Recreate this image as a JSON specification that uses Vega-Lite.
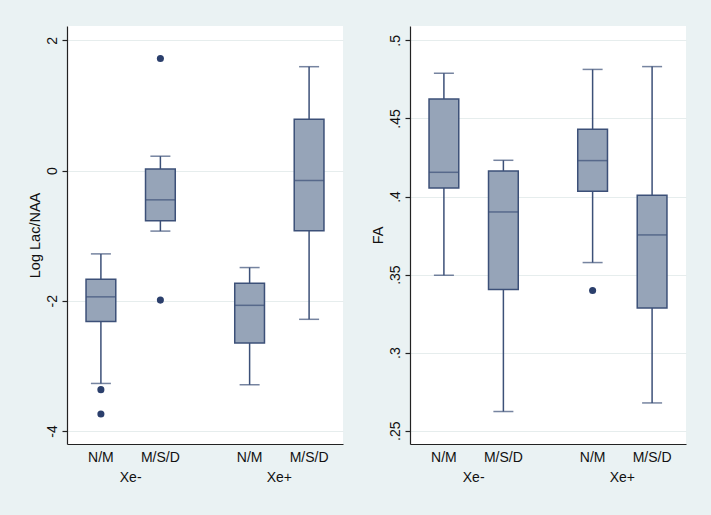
{
  "$schema": "https://vega.github.io/schema/vega-lite/v6.json",
  "background": "#eaf2f3",
  "padding": {"left": 27, "top": 26, "right": 26, "bottom": 35},
  "spacing": 27,
  "datasets": {
    "lacBoxes": [
      {"group": "Xe-", "cat": "N/M", "box": "Xe-|N/M", "lo": -3.27, "q1": -2.32, "med": -1.94, "q3": -1.67, "hi": -1.28},
      {"group": "Xe-", "cat": "M/S/D", "box": "Xe-|M/S/D", "lo": -0.93, "q1": -0.77, "med": -0.45, "q3": 0.025, "hi": 0.22},
      {"group": "Xe+", "cat": "N/M", "box": "Xe+|N/M", "lo": -3.29, "q1": -2.65, "med": -2.07, "q3": -1.73, "hi": -1.49},
      {"group": "Xe+", "cat": "M/S/D", "box": "Xe+|M/S/D", "lo": -2.285, "q1": -0.926, "med": -0.153, "q3": 0.787, "hi": 1.595}
    ],
    "lacOut": [
      {"group": "Xe-", "cat": "N/M", "box": "Xe-|N/M", "value": -3.365},
      {"group": "Xe-", "cat": "N/M", "box": "Xe-|N/M", "value": -3.738},
      {"group": "Xe-", "cat": "M/S/D", "box": "Xe-|M/S/D", "value": 1.72},
      {"group": "Xe-", "cat": "M/S/D", "box": "Xe-|M/S/D", "value": -1.99}
    ],
    "faBoxes": [
      {"group": "Xe-", "cat": "N/M", "box": "Xe-|N/M", "lo": 0.3496, "q1": 0.4054, "med": 0.4155, "q3": 0.4624, "hi": 0.479},
      {"group": "Xe-", "cat": "M/S/D", "box": "Xe-|M/S/D", "lo": 0.2623, "q1": 0.3404, "med": 0.3901, "q3": 0.4163, "hi": 0.4232},
      {"group": "Xe+", "cat": "N/M", "box": "Xe+|N/M", "lo": 0.3577, "q1": 0.4033, "med": 0.423, "q3": 0.443, "hi": 0.4814},
      {"group": "Xe+", "cat": "M/S/D", "box": "Xe+|M/S/D", "lo": 0.2678, "q1": 0.3286, "med": 0.3754, "q3": 0.4008, "hi": 0.4832}
    ],
    "faOut": [
      {"group": "Xe+", "cat": "N/M", "box": "Xe+|N/M", "value": 0.3398}
    ]
  },
  "config": {
    "font": "Liberation Sans",
    "view": {"fill": "white", "stroke": null},
    "axis": {
      "labelFont": "Liberation Sans", "titleFont": "Liberation Sans",
      "labelFontSize": 14, "titleFontSize": 14.5, "titleFontWeight": "normal",
      "labelColor": "#111111", "titleColor": "#111111",
      "domainColor": "#222222", "tickColor": "#222222", "domainWidth": 1.2, "tickWidth": 1.2
    }
  },
  "hconcat": [
    {
      "width": 276, "height": 418,
      "encoding": {
        "x": {"field": "box", "type": "nominal", "title": null,
          "scale": {"type": "band", "domain": ["Xe-|N/M", "Xe-", "Xe-|M/S/D", "gap1", "gap2", "Xe+|N/M", "Xe+", "Xe+|M/S/D"], "paddingInner": 0, "paddingOuter": 0.64},
          "axis": {"values": ["Xe-|N/M", "Xe-", "Xe-|M/S/D", "Xe+|N/M", "Xe+", "Xe+|M/S/D"],
            "labelExpr": "indexof(datum.value, '|') >= 0 ? split(datum.value, '|')[1] : ['', datum.value]",
            "ticks": false, "grid": false, "labelPadding": 6, "labelLineHeight": 20.7, "labelOverlap": false, "labelAngle": 0, "labelBaseline": "top", "labelBound": false}}
      },
      "layer": [
        {"data": {"name": "lacBoxes"}, "mark": {"type": "rule", "color": "#3c5078", "strokeWidth": 1.5},
          "encoding": {
            "y": {"field": "lo", "type": "quantitative", "scale": {"domain": [-4.2, 2.22], "nice": false, "zero": false},
              "axis": {"values": [-4, -2, 0, 2], "labelExpr": "datum.value < 0 ? '-' + abs(datum.value) : '' + datum.value",
                "labelAngle": 270, "labelAlign": "center", "labelBaseline": "bottom", "tickSize": 5, "labelPadding": 3,
                "grid": true, "gridColor": "#e6eded", "title": "Log Lac/NAA", "titlePadding": 3}},
            "y2": {"field": "hi"}}},
        {"data": {"name": "lacBoxes"}, "mark": {"type": "tick", "color": "#3c5078", "size": 20, "thickness": 1.5},
          "encoding": {"y": {"field": "lo", "type": "quantitative"}}},
        {"data": {"name": "lacBoxes"}, "mark": {"type": "tick", "color": "#3c5078", "size": 20, "thickness": 1.5},
          "encoding": {"y": {"field": "hi", "type": "quantitative"}}},
        {"data": {"name": "lacBoxes"}, "mark": {"type": "bar", "fill": "#96a4b8", "stroke": "#3c5078", "strokeWidth": 1.5},
          "encoding": {"y": {"field": "q1", "type": "quantitative"}, "y2": {"field": "q3"}}},
        {"data": {"name": "lacBoxes"}, "mark": {"type": "tick", "color": "#3c5078", "size": 29.7, "thickness": 1.5},
          "encoding": {"y": {"field": "med", "type": "quantitative"}}},
        {"data": {"name": "lacOut"}, "mark": {"type": "point", "filled": true, "color": "#2b3f6c", "size": 50, "opacity": 1},
          "encoding": {"y": {"field": "value", "type": "quantitative"}}}
      ]
    },
    {
      "width": 276, "height": 418,
      "encoding": {
        "x": {"field": "box", "type": "nominal", "title": null,
          "scale": {"type": "band", "domain": ["Xe-|N/M", "Xe-", "Xe-|M/S/D", "gap1", "gap2", "Xe+|N/M", "Xe+", "Xe+|M/S/D"], "paddingInner": 0, "paddingOuter": 0.64},
          "axis": {"values": ["Xe-|N/M", "Xe-", "Xe-|M/S/D", "Xe+|N/M", "Xe+", "Xe+|M/S/D"],
            "labelExpr": "indexof(datum.value, '|') >= 0 ? split(datum.value, '|')[1] : ['', datum.value]",
            "ticks": false, "grid": false, "labelPadding": 6, "labelLineHeight": 20.7, "labelOverlap": false, "labelAngle": 0, "labelBaseline": "top", "labelBound": false}}
      },
      "layer": [
        {"data": {"name": "faBoxes"}, "mark": {"type": "rule", "color": "#3c5078", "strokeWidth": 1.5},
          "encoding": {
            "y": {"field": "lo", "type": "quantitative", "scale": {"domain": [0.2415, 0.5092], "nice": false, "zero": false},
              "axis": {"values": [0.25, 0.3, 0.35, 0.4, 0.45, 0.5], "labelExpr": "substring(format(datum.value, '.2~f'), 1)",
                "labelAngle": 270, "labelAlign": "center", "labelBaseline": "bottom", "tickSize": 5, "labelPadding": 3,
                "grid": true, "gridColor": "#e6eded", "title": "FA", "titlePadding": 3}},
            "y2": {"field": "hi"}}},
        {"data": {"name": "faBoxes"}, "mark": {"type": "tick", "color": "#3c5078", "size": 20, "thickness": 1.5},
          "encoding": {"y": {"field": "lo", "type": "quantitative"}}},
        {"data": {"name": "faBoxes"}, "mark": {"type": "tick", "color": "#3c5078", "size": 20, "thickness": 1.5},
          "encoding": {"y": {"field": "hi", "type": "quantitative"}}},
        {"data": {"name": "faBoxes"}, "mark": {"type": "bar", "fill": "#96a4b8", "stroke": "#3c5078", "strokeWidth": 1.5},
          "encoding": {"y": {"field": "q1", "type": "quantitative"}, "y2": {"field": "q3"}}},
        {"data": {"name": "faBoxes"}, "mark": {"type": "tick", "color": "#3c5078", "size": 29.7, "thickness": 1.5},
          "encoding": {"y": {"field": "med", "type": "quantitative"}}},
        {"data": {"name": "faOut"}, "mark": {"type": "point", "filled": true, "color": "#2b3f6c", "size": 50, "opacity": 1},
          "encoding": {"y": {"field": "value", "type": "quantitative"}}}
      ]
    }
  ]
}
